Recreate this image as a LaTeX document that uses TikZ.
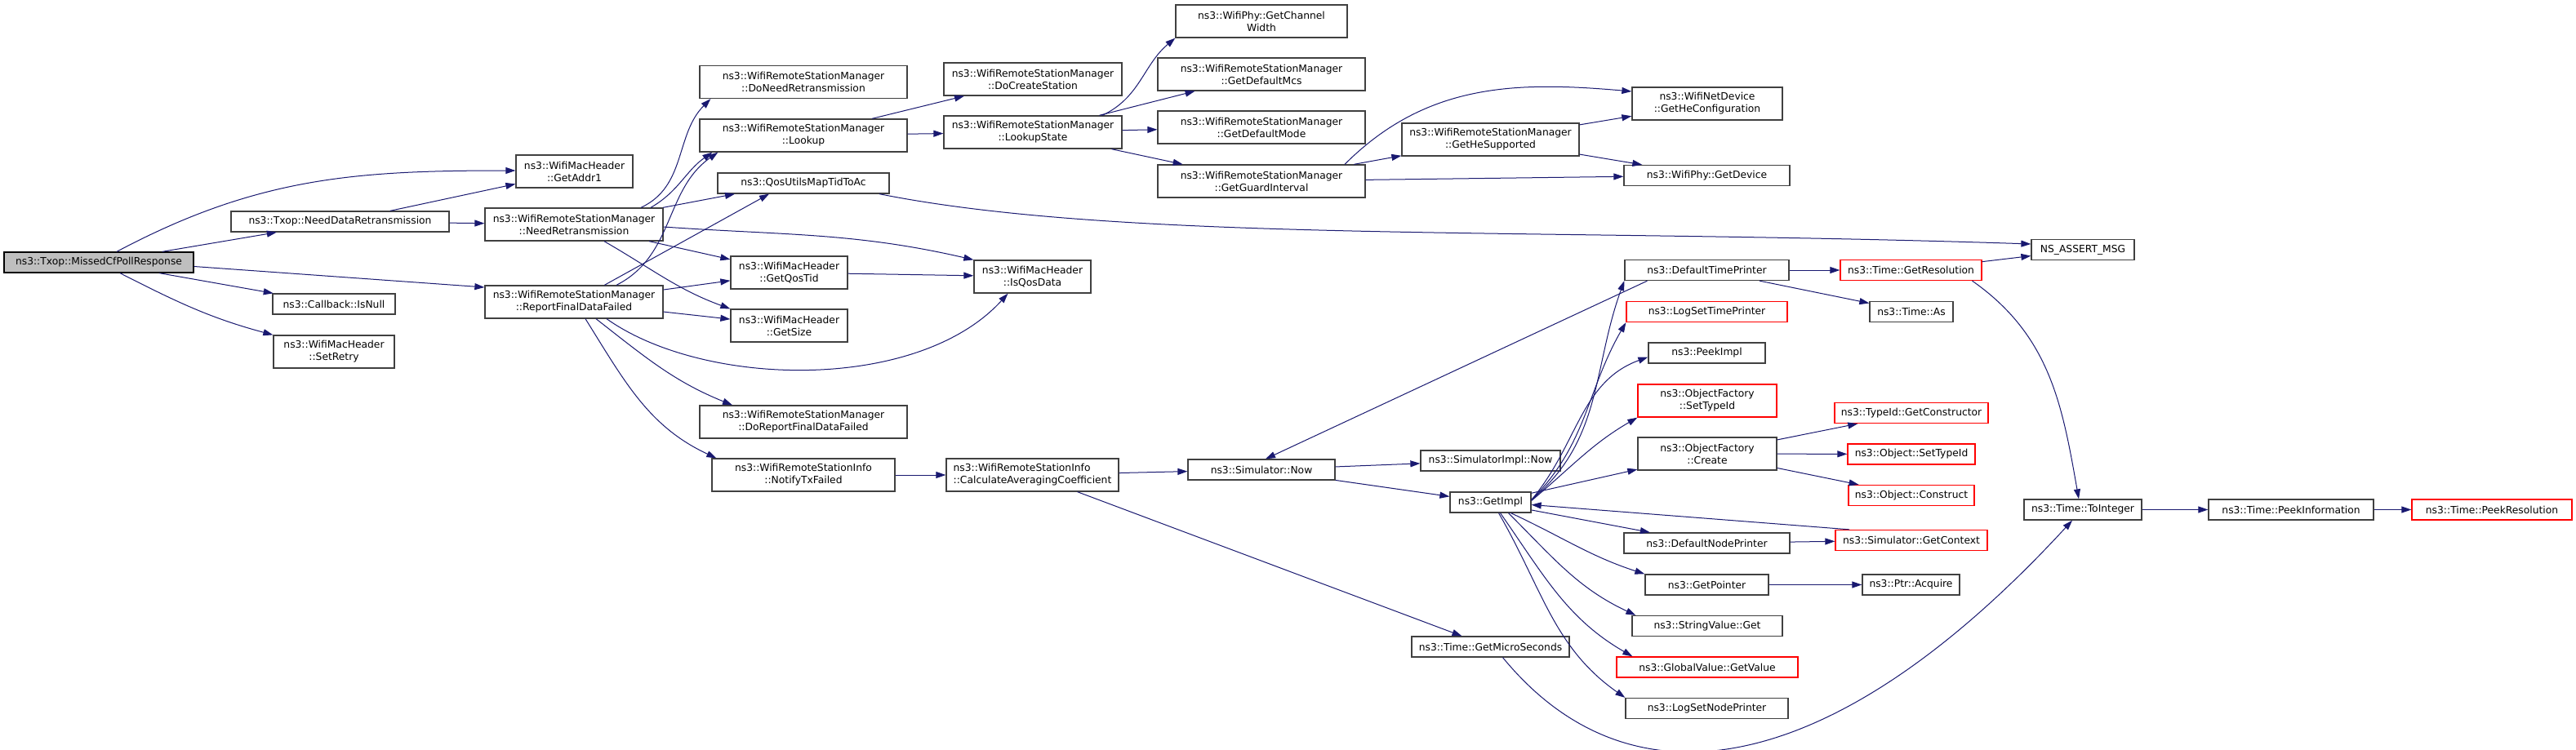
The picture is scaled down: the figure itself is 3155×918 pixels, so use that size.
\documentclass[tikz,border=0pt]{standalone}
\usepackage{fontspec}
\setmainfont{DejaVu Sans}
\usepackage{tikz}
\usetikzlibrary{arrows.meta}
\definecolor{edgecolor}{RGB}{25,25,112}
\definecolor{bordercolor}{RGB}{64,64,64}
\definecolor{missingcolor}{RGB}{255,0,0}
\definecolor{rootcolor}{RGB}{191,191,191}
\tikzset{
    func/.style={
        rectangle,
        draw=bordercolor,
        line width=1.3pt,
        inner sep=0pt,
        minimum height=25pt,
        align=center,
        fill=white,
        font=\fontsize{12.3}{15}\selectfont
    },
    twoline/.style={minimum height=40pt},
    rootfunc/.style={func, fill=rootcolor, draw=black},
    redfunc/.style={func, draw=missingcolor},
    arrow/.style={-{Triangle[length=12pt,width=8pt]}, line width=1pt, color=edgecolor}
}

\begin{document}
\begin{tikzpicture}[x=1pt,y=1pt]
    \useasboundingbox (0,0) rectangle (3155,-918);

    % Root
    \node[rootfunc, minimum width=232pt] (mcpr) at (121,-321.5) {ns3::Txop::MissedCfPollResponse};

    % First level
    \node[func, minimum width=267pt] (ndr) at (416.5,-271.5) {ns3::Txop::NeedDataRetransmission};
    \node[func, minimum width=150pt] (isnull) at (409,-372.5) {ns3::Callback::IsNull};
    \node[func, twoline, minimum width=148pt] (setretry) at (409,-431) {ns3::WifiMacHeader\\::SetRetry};

    % Station manager
    \node[func, twoline, minimum width=143pt] (getaddr) at (703.5,-210) {ns3::WifiMacHeader\\::GetAddr1};
    \node[func, twoline, minimum width=218pt] (needretx) at (703,-275) {ns3::WifiRemoteStationManager\\::NeedRetransmission};
    \node[func, twoline, minimum width=218pt] (rfdf) at (703,-370) {ns3::WifiRemoteStationManager\\::ReportFinalDataFailed};

    \node[func, twoline, minimum width=254pt] (doneedretx) at (984,-100.5) {ns3::WifiRemoteStationManager\\::DoNeedRetransmission};
    \node[func, twoline, minimum width=254pt] (lookup) at (984,-166) {ns3::WifiRemoteStationManager\\::Lookup};
    \node[func, minimum width=210pt] (qosmap) at (984,-224.5) {ns3::QosUtilsMapTidToAc};
    \node[func, twoline, minimum width=143pt] (getqostid) at (966.5,-334) {ns3::WifiMacHeader\\::GetQosTid};
    \node[func, twoline, minimum width=143pt] (getsize) at (966.5,-399) {ns3::WifiMacHeader\\::GetSize};
    \node[func, twoline, minimum width=254pt] (doreport) at (984,-517) {ns3::WifiRemoteStationManager\\::DoReportFinalDataFailed};
    \node[func, twoline, minimum width=224pt] (notifytx) at (984,-582) {ns3::WifiRemoteStationInfo\\::NotifyTxFailed};

    \node[func, twoline, minimum width=218pt] (docreate) at (1265,-97) {ns3::WifiRemoteStationManager\\::DoCreateStation};
    \node[func, twoline, minimum width=218pt] (lookupstate) at (1265,-162) {ns3::WifiRemoteStationManager\\::LookupState};
    \node[func, twoline, minimum width=143pt] (isqosdata) at (1264.5,-339) {ns3::WifiMacHeader\\::IsQosData};
    \node[func, twoline, minimum width=211pt, align=left] (calcavg) at (1264.5,-582) {ns3::WifiRemoteStationInfo\\::CalculateAveragingCoefficient};

    % Lookup state
    \node[func, twoline, minimum width=210pt] (chanwidth) at (1545,-26) {ns3::WifiPhy::GetChannel\\Width};
    \node[func, twoline, minimum width=254pt] (defmcs) at (1545,-91) {ns3::WifiRemoteStationManager\\::GetDefaultMcs};
    \node[func, twoline, minimum width=254pt] (defmode) at (1545,-156) {ns3::WifiRemoteStationManager\\::GetDefaultMode};
    \node[func, twoline, minimum width=254pt] (guardint) at (1545,-222) {ns3::WifiRemoteStationManager\\::GetGuardInterval};
    \node[func, minimum width=180pt] (simnow) at (1545,-575.5) {ns3::Simulator::Now};

    \node[func, twoline, minimum width=217pt] (hesupp) at (1825.5,-171) {ns3::WifiRemoteStationManager\\::GetHeSupported};
    \node[func, minimum width=171pt] (simimplnow) at (1825.5,-564.5) {ns3::SimulatorImpl::Now};
    \node[func, minimum width=99pt] (getimpl) at (1825.5,-615.5) {ns3::GetImpl};
    \node[func, minimum width=193pt] (getmicro) at (1825.5,-792.5) {ns3::Time::GetMicroSeconds};

    % Simulator implementation
    \node[func, twoline, minimum width=184pt] (heconf) at (2091,-127) {ns3::WifiNetDevice\\::GetHeConfiguration};
    \node[func, minimum width=203pt] (getdevice) at (2090.5,-215) {ns3::WifiPhy::GetDevice};
    \node[func, minimum width=201pt] (deftimep) at (2090.5,-331) {ns3::DefaultTimePrinter};
    \node[redfunc, minimum width=197pt] (logsettime) at (2090.5,-382) {ns3::LogSetTimePrinter};
    \node[func, minimum width=143pt] (peekimpl) at (2090.5,-432.5) {ns3::PeekImpl};
    \node[redfunc, twoline, minimum width=170pt] (ofsettype) at (2091,-491) {ns3::ObjectFactory\\::SetTypeId};
    \node[func, twoline, minimum width=170pt] (ofcreate) at (2091,-556) {ns3::ObjectFactory\\::Create};
    \node[func, minimum width=203pt] (defnodep) at (2090.5,-665.5) {ns3::DefaultNodePrinter};
    \node[func, minimum width=151pt] (getpointer) at (2090.5,-716.5) {ns3::GetPointer};
    \node[func, minimum width=184pt] (strget) at (2091,-767) {ns3::StringValue::Get};
    \node[redfunc, minimum width=222pt] (globalget) at (2091,-817.5) {ns3::GlobalValue::GetValue};
    \node[func, minimum width=199pt] (logsetnode) at (2090.5,-868) {ns3::LogSetNodePrinter};

    \node[redfunc, minimum width=173pt] (getres) at (2340.5,-331) {ns3::Time::GetResolution};
    \node[func, minimum width=102pt] (timeas) at (2341,-382) {ns3::Time::As};
    \node[redfunc, minimum width=188pt] (getctor) at (2341,-506) {ns3::TypeId::GetConstructor};
    \node[redfunc, minimum width=156pt] (objsettype) at (2341,-556.5) {ns3::Object::SetTypeId};
    \node[redfunc, minimum width=154pt] (objconstruct) at (2341,-607) {ns3::Object::Construct};
    \node[redfunc, minimum width=186pt] (getcontext) at (2341,-662) {ns3::Simulator::GetContext};
    \node[func, minimum width=119pt] (ptracq) at (2340.5,-716.5) {ns3::Ptr::Acquire};

    % Time
    \node[func, minimum width=126pt] (assertmsg) at (2551,-306) {NS\_ASSERT\_MSG};
    \node[func, minimum width=144pt] (tointeger) at (2551,-624.5) {ns3::Time::ToInteger};
    \node[func, minimum width=202pt] (peekinfo) at (2806,-624.5) {ns3::Time::PeekInformation};
    \node[redfunc, minimum width=196pt] (peekres) at (3052,-624.5) {ns3::Time::PeekResolution};

    % Arrows
    \draw[arrow] ([xshift=22pt]mcpr.north) to[out=28,in=180] ([yshift=1pt]getaddr.west);
    \draw[arrow] (mcpr) -- (ndr);
    \draw[arrow] ([yshift=-5pt]mcpr.east) -- ([yshift=18pt]rfdf.west);
    \draw[arrow] (mcpr) -- (isnull);
    \draw[arrow] ([xshift=26pt]mcpr.south) to[out=-27,in=165] (setretry.north west);
    \draw[arrow] (ndr) -- (getaddr);
    \draw[arrow] (ndr) -- (needretx);

    \draw[arrow] ([xshift=82pt]needretx.north) to[out=25,in=225] ([xshift=14pt]doneedretx.south west);
    \draw[arrow] ([xshift=94pt]needretx.north) to[out=30,in=215] ([xshift=16pt]lookup.south west);
    \draw[arrow] (needretx) -- ([xshift=-84pt]qosmap.south);
    \draw[arrow] ([yshift=-3pt]needretx.east) to[out=-4,in=167] (isqosdata.north west);
    \draw[arrow] (needretx) -- (getqostid);
    \draw[arrow] ([xshift=37pt]needretx.south) to[out=-30,in=160] (getsize.north west);

    \draw[arrow] ([xshift=52pt]rfdf.north) to[out=27,in=215] ([xshift=23pt]lookup.south west);
    \draw[arrow] (rfdf) -- ([xshift=-42pt]qosmap.south);
    \draw[arrow] (rfdf) -- (getqostid);
    \draw[arrow] (rfdf) -- (getsize);
    \draw[arrow] ([xshift=40pt]rfdf.south) .. controls +(120,-85) and +(-110,-121) .. ([xshift=-30pt]isqosdata.south);
    \draw[arrow] ([xshift=27pt]rfdf.south) to[out=-38,in=158] ([xshift=-87pt]doreport.north);
    \draw[arrow] ([xshift=14pt]rfdf.south) to[out=-58,in=155] ([xshift=6pt]notifytx.north west);

    \draw[arrow] ([xshift=93pt]qosmap.south) .. controls +(300,-60) and +(-600,20) .. ([yshift=7pt]assertmsg.west);
    \draw[arrow] (getqostid) -- (isqosdata);
    \draw[arrow] (lookup) -- (docreate);
    \draw[arrow] (lookup) -- (lookupstate);

    \draw[arrow] ([xshift=85pt]lookupstate.north) to[out=25,in=220] (chanwidth.south west);
    \draw[arrow] (lookupstate) -- (defmcs);
    \draw[arrow] (lookupstate) -- (defmode);
    \draw[arrow] (lookupstate) -- (guardint);
    \draw[arrow] (guardint) -- (hesupp);
    \draw[arrow] ([xshift=102pt]guardint.north) to[out=45,in=175] ([yshift=15pt]heconf.west);
    \draw[arrow] (guardint) -- (getdevice);
    \draw[arrow] (hesupp) -- (heconf);
    \draw[arrow] (hesupp) -- (getdevice);

    \draw[arrow] (notifytx) -- (calcavg);
    \draw[arrow] (calcavg) -- (simnow);
    \draw[arrow] (calcavg) -- (getmicro);
    \draw[arrow] ([xshift=-73pt]deftimep.south) -- ([xshift=5pt]simnow.north);
    \draw[arrow] (simnow) -- (simimplnow);
    \draw[arrow] (simnow) -- (getimpl);

    \draw[arrow] ([yshift=3pt]getimpl.east) to[out=40,in=250] (deftimep.south west);
    \draw[arrow] ([yshift=3pt]getimpl.east) to[out=45,in=240] (logsettime.south west);
    \draw[arrow] ([yshift=3pt]getimpl.east) to[out=50,in=200] ([yshift=-5pt]peekimpl.west);
    \draw[arrow] ([yshift=2pt]getimpl.east) to[out=40,in=210] (ofsettype.south west);
    \draw[arrow] (getimpl) -- (ofcreate);
    \draw[arrow] ([xshift=-76pt]getcontext.north) -- ([yshift=-3pt]getimpl.east);
    \draw[arrow] (getimpl) -- (defnodep);
    \draw[arrow] ([xshift=25pt]getimpl.south) to[out=-25,in=162] (getpointer.north west);
    \draw[arrow] ([xshift=22pt]getimpl.south) to[out=-45,in=155] ([xshift=5pt]strget.north west);
    \draw[arrow] ([xshift=12pt]getimpl.south) to[out=-55,in=150] ([xshift=20pt]globalget.north west);
    \draw[arrow] ([xshift=10pt]getimpl.south) to[out=-60,in=145] (logsetnode.north west);

    \draw[arrow] (defnodep) -- (getcontext);
    \draw[arrow] (getpointer) -- (ptracq);
    \draw[arrow] (ofcreate) -- (getctor);
    \draw[arrow] (ofcreate) -- (objsettype);
    \draw[arrow] (ofcreate) -- (objconstruct);
    \draw[arrow] (deftimep) -- (getres);
    \draw[arrow] (deftimep) -- (timeas);
    \draw[arrow] (getres) -- (assertmsg);
    \draw[arrow] ([xshift=75pt]getres.south) to[out=-35,in=100] ([xshift=-5pt]tointeger.north);
    \draw[arrow] ([xshift=15pt]getmicro.south) .. controls +(160,-195) and +(-288,-313) .. ([xshift=-13pt]tointeger.south);
    \draw[arrow] (tointeger) -- (peekinfo);
    \draw[arrow] (peekinfo) -- (peekres);
\end{tikzpicture}
\end{document}
